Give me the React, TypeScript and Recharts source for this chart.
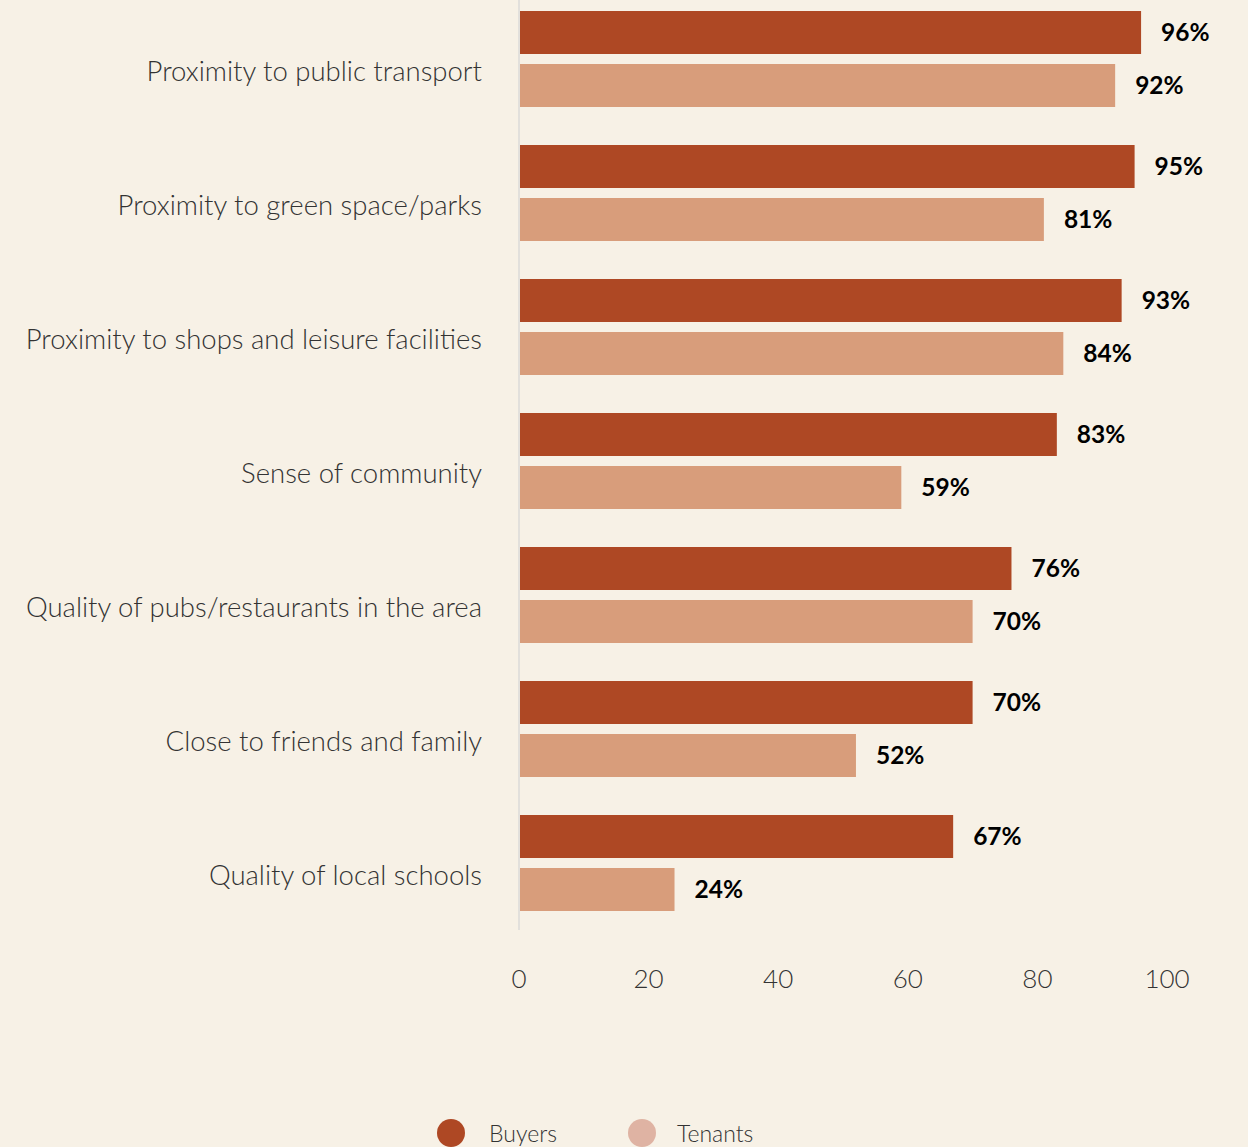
import { BarChart, Bar, XAxis, YAxis, LabelList } from "recharts";

// factors and share of respondents (%)
const categories = [
  "Proximity to public transport",
  "Proximity to green space/parks",
  "Proximity to shops and leisure facilities",
  "Sense of community",
  "Quality of pubs/restaurants in the area",
  "Close to friends and family",
  "Quality of local schools",
];
const buyers = [96, 95, 93, 83, 76, 70, 67];
const tenants = [92, 81, 84, 59, 70, 52, 24];
const xTicks = [0, 20, 40, 60, 80, 100];

const data = categories.map((name, i) => ({
  name,
  buyers: buyers[i],
  tenants: tenants[i],
}));

const FONT = "Lato, 'Noto Sans', sans-serif";
const BG = "#f7f1e6";
const BUYER = "#ae4824";
const TENANT = "#d89d7b";

const CategoryTick = ({ x, y, payload }: any) => (
  <text
    x={x - 29}
    y={y + 11}
    textAnchor="end"
    dominantBaseline="central"
    fontFamily={FONT}
    fontWeight={300}
    fontSize={27.5}
    fill="#333"
  >
    {payload.value}
  </text>
);

const ValueTick = ({ x, y, payload }: any) => (
  <text
    x={x}
    y={y + 40}
    textAnchor="middle"
    dominantBaseline="central"
    fontFamily={FONT}
    fontWeight={300}
    fontSize={26}
    fill="#333"
  >
    {payload.value}
  </text>
);

export default function App() {
  return (
    <div
      style={{
        position: "absolute",
        left: 0,
        top: -8,
        width: 1248,
        height: 1155,
        background: BG,
      }}
    >
      <BarChart
        width={1248}
        height={1038}
        data={data}
        layout="vertical"
        margin={{ top: 0, right: 81, left: 0, bottom: 0 }}
        barSize={43}
        barGap={10}
      >
        <XAxis
          type="number"
          domain={[0, 100]}
          ticks={xTicks}
          axisLine={false}
          tickLine={false}
          height={100}
          tick={<ValueTick />}
        />
        <YAxis
          type="category"
          dataKey="name"
          width={519}
          axisLine={{ stroke: "#e2e0dc", strokeWidth: 2 }}
          tickLine={false}
          tick={<CategoryTick />}
        />
        <Bar dataKey="buyers" fill={BUYER} isAnimationActive={false}>
          <LabelList
            dataKey="buyers"
            position="right"
            offset={20}
            formatter={(v: any) => `${v}%`}
            fill="#000"
            fontWeight={700}
            fontSize={24.5}
            fontFamily={FONT}
          />
        </Bar>
        <Bar dataKey="tenants" fill={TENANT} isAnimationActive={false}>
          <LabelList
            dataKey="tenants"
            position="right"
            offset={20}
            formatter={(v: any) => `${v}%`}
            fill="#000"
            fontWeight={700}
            fontSize={24.5}
            fontFamily={FONT}
          />
        </Bar>
      </BarChart>
      {/* Legend */}
      <div
        style={{
          position: "absolute",
          top: 1141 - 16,
          left: 437,
          display: "flex",
          alignItems: "center",
          fontFamily: FONT,
          fontWeight: 300,
          fontSize: 23,
          color: "#333",
          lineHeight: "32px",
        }}
      >
        <div style={{ width: 28, height: 28, borderRadius: "50%", background: BUYER }} />
        <span style={{ marginLeft: 24, width: 139 }}>Buyers</span>
        <div style={{ width: 28, height: 28, borderRadius: "50%", background: "#dfb3a3" }} />
        <span style={{ marginLeft: 21 }}>Tenants</span>
      </div>
    </div>
  );
}
